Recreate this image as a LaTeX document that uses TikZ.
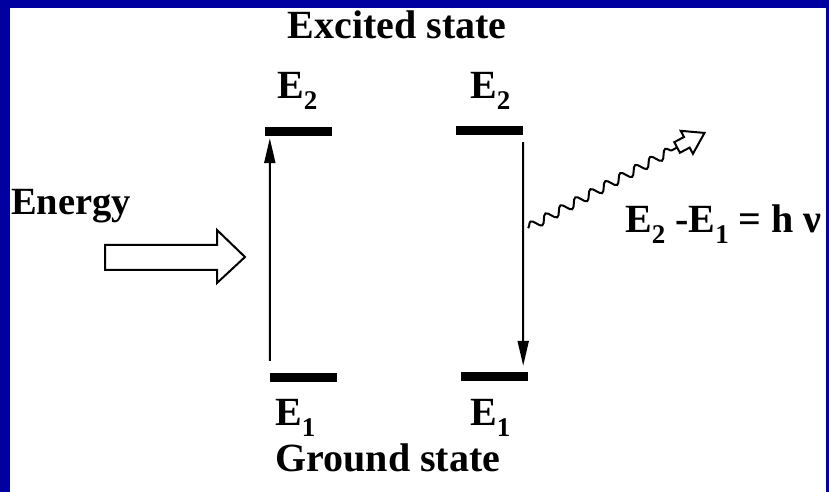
\documentclass[tikz,border=0pt]{standalone}
\usepackage{fontspec}
\setmainfont{Liberation Serif}
\usetikzlibrary{arrows.meta,decorations.pathmorphing,calc}
\definecolor{frameblue}{RGB}{0,0,160}
\newcommand{\sbx}[1]{\raisebox{-11bp}{\fontsize{27bp}{27bp}\selectfont #1}}
\begin{document}
\begin{tikzpicture}[x=1bp,y=-1bp,
  lbl/.style={inner sep=0pt, font=\bfseries\fontsize{40bp}{42bp}\selectfont},
  bar/.style={fill=black, draw=none, minimum width=67bp, minimum height=9bp, inner sep=0pt},
  trans/.style={line width=2bp, -{Triangle[length=25bp,width=11bp]}},
  hollow/.style={draw=black, line width=2bp, fill=white, line join=miter}
]
\useasboundingbox (0,0) rectangle (829,492);
\fill[frameblue] (0,0) rectangle (829,492);
\fill[white] (10,8) rectangle (826,492);

% titles
\node[lbl, anchor=base] (exc) at (397,39) {Excited state};
\node[lbl, anchor=base] (gnd) at (388,471) {Ground state};
\node[lbl, anchor=base west, font=\bfseries\fontsize{38.5bp}{42bp}\selectfont] (en) at (11,215) {Energy};

% levels
\node[bar] (b2L) at (298.5,131.5) {};
\node[bar] (b2R) at (489.5,130.5) {};
\node[bar] (b1L) at (303.5,377.5) {};
\node[bar] (b1R) at (494.5,376.5) {};

% level labels
\node[lbl, anchor=base west] (e2L) at (277,99) {E\sbx{2}};
\node[lbl, anchor=base west] (e2R) at (470,99) {E\sbx{2}};
\node[lbl, anchor=base west] (e1L) at (275,425) {E\sbx{1}};
\node[lbl, anchor=base west] (e1R) at (470,425) {E\sbx{1}};

% transitions
\draw[trans] ([yshift=12bp]b1L.north west) -- ([xshift=5bp,yshift=-2bp]b2L.south west);
\draw[trans] ([xshift=0bp,yshift=-7bp]b2R.south east) -- ([xshift=-5bp,yshift=6bp]b1R.north east);

% energy input arrow
\draw[hollow] (105,245) -- (217,245) -- (217,230) -- (245,257) -- (217,283) -- (217,270) -- (105,270) -- cycle;

% photon
\coordinate (wS) at (528,228);
\coordinate (wE) at (678,147);
\draw[line width=2bp, decorate, decoration={snake, segment length=17bp, amplitude=4.5bp}] (wS) -- (wE);
\begin{scope}[shift={(wE)}, rotate=28]
  \draw[hollow] (-1,6) -- (10,6) -- (10,13) -- (30,0) -- (10,-13) -- (10,-6) -- (-1,-6) -- cycle;
\end{scope}

% formula
\node[lbl, anchor=base west] (form) at (625,233) {E\sbx{2} -E\sbx{1} = h ν};
\end{tikzpicture}
\end{document}
